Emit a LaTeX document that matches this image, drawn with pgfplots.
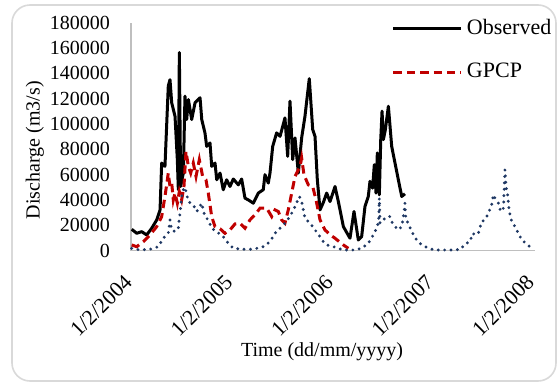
\documentclass[border=0pt]{standalone}
\usepackage{pgfplots}
\pgfplotsset{compat=1.18}
\usepackage{fontspec}
\setmainfont{Liberation Serif}
\definecolor{obsblack}{HTML}{000000}
\definecolor{gpcpred}{HTML}{C00000}
\definecolor{navy}{HTML}{1F3864}
\definecolor{framegrey}{HTML}{D9D9D9}
\definecolor{axisgrey}{HTML}{BFBFBF}
\begin{document}
\begin{tikzpicture}
\useasboundingbox (-65.5pt,-68.25pt) rectangle (214.5pt,125.25pt);
\draw[framegrey, line width=0.8pt, rounded corners=9pt] (-59.5pt,-65.25pt) rectangle (212.5pt,122.75pt);
\begin{axis}[
  at={(0,0)}, anchor=south west,
  scale only axis, width=202pt, height=113.9pt,
  xmin=0, xmax=4.02, ymin=0, ymax=180000,
  axis lines=left, axis line style={axisgrey, line width=0.6pt, -},
  major tick length=0pt,
  xtick={0,1,2,3,4},
  xticklabels={1/2/2004,1/2/2005,1/2/2006,1/2/2007,1/2/2008},
  ytick={0,20000,40000,60000,80000,100000,120000,140000,160000,180000},
  yticklabels={0,20000,40000,60000,80000,100000,120000,140000,160000,180000},
  scaled y ticks=false,
  tick label style={font=\fontsize{10}{12}\selectfont, black},
  yticklabel style={xshift=-7pt},
  xticklabel style={font=\fontsize{10.8}{12}\selectfont, xshift=-4pt, yshift=-6.5pt, rotate=45, anchor=north east},
  xlabel={Time (dd/mm/yyyy)},
  ylabel={Discharge (m3/s)},
  label style={font=\fontsize{10.5}{12}\selectfont},
  every axis x label/.style={at={(axis description cs:0.473,-0.446)}, anchor=center},
  every axis y label/.style={at={(axis description cs:-0.238,0.44)}, rotate=90, anchor=center},
  legend style={at={(0.645,1.035)}, anchor=north west, draw=none, fill=none,
    font=\fontsize{11}{13}\selectfont, row sep=9pt, inner sep=0pt},
  legend cell align=left,
  legend image code/.code={\draw[#1] (0pt,0pt) -- (34pt,0pt);},
  clip=false,
]
\addplot[obsblack, line width=1.5pt, line join=round] coordinates {
(0.007,16800) (0.057,13600) (0.106,14900) (0.156,12300) (0.206,17600)
(0.256,24200) (0.289,32100) (0.305,69100) (0.338,66500) (0.371,130000)
(0.388,135000) (0.405,116700) (0.438,106100) (0.461,71800) (0.471,48000)
(0.481,156400) (0.494,50600) (0.521,61200) (0.537,122000) (0.554,103500)
(0.571,119300) (0.604,103500) (0.637,116700) (0.687,120700) (0.704,103500)
(0.736,92900) (0.753,82300) (0.786,85000) (0.803,66500) (0.836,69100)
(0.853,55900) (0.886,61200) (0.918,48000) (0.952,55900) (0.985,50600)
(1.018,56500) (1.068,51900) (1.101,56500) (1.134,41400) (1.167,40000)
(1.217,37400) (1.267,45400) (1.316,48000) (1.333,59900) (1.366,53300)
(1.383,61200) (1.410,82300) (1.449,92900) (1.483,90200) (1.532,104800)
(1.559,74400) (1.582,118000) (1.609,71800) (1.632,89000) (1.665,61200)
(1.698,89000) (1.731,106100) (1.774,135800) (1.808,95600) (1.831,90200)
(1.854,55900) (1.881,32100) (1.914,38000) (1.947,45400) (1.980,38700)
(2.030,50600) (2.063,38700) (2.113,18900) (2.179,9700) (2.219,30800)
(2.262,8300) (2.295,10900) (2.328,34700) (2.361,42700) (2.378,54600)
(2.404,49300) (2.421,67800) (2.438,45400) (2.451,77100) (2.471,44000)
(2.485,87600) (2.498,110100) (2.511,87600) (2.531,95600) (2.561,114000)
(2.594,82300) (2.627,69100) (2.660,55900) (2.694,42700) (2.726,44800)
};
\addlegendentry{Observed}
\addplot[gpcpred, line width=1.5pt, dash pattern=on 4.2pt off 2.5pt] coordinates {
(0.007,4400) (0.057,3000) (0.123,7000) (0.189,12300) (0.256,18900)
(0.305,26800) (0.338,42700) (0.371,61200) (0.388,50600) (0.405,53300)
(0.421,40000) (0.438,45400) (0.461,37400) (0.481,46600) (0.504,40000)
(0.527,50600) (0.547,78300) (0.571,66500) (0.594,61200) (0.620,69100)
(0.647,58500) (0.680,71800) (0.713,58500) (0.746,55900) (0.769,45400)
(0.803,26800) (0.836,18900) (0.886,17200) (0.935,13600) (0.985,16300)
(1.035,21000) (1.085,21600) (1.134,17600) (1.184,24200) (1.234,28200)
(1.284,33500) (1.350,33500) (1.400,26800) (1.433,32100) (1.466,30800)
(1.499,24200) (1.532,21600) (1.565,32100) (1.599,45400) (1.632,58500)
(1.682,66500) (1.698,73100) (1.721,59900) (1.764,51900) (1.808,50600)
(1.841,40000) (1.881,24200) (1.930,16300) (1.980,12500) (2.030,9700)
(2.113,4400) (2.163,1700)
};
\addlegendentry{GPCP}
\addplot[navy, line width=1.6pt, line cap=round, dash pattern=on 0pt off 3.2pt] coordinates {
(0.007,1700) (0.090,400) (0.189,1000) (0.271,3000) (0.321,9700)
(0.371,13600) (0.388,24200) (0.405,16300) (0.438,14900) (0.471,17600)
(0.494,34700) (0.504,42700) (0.521,48000) (0.537,50000) (0.571,38700)
(0.620,36100) (0.654,30800) (0.704,37400) (0.736,26800) (0.769,24200)
(0.803,17600) (0.853,14900) (0.918,10900) (0.968,5700) (1.018,1700)
(1.117,1000) (1.217,1000) (1.316,3000) (1.383,7000) (1.433,13600)
(1.483,17600) (1.532,21600) (1.582,26800) (1.632,34700) (1.675,42700)
(1.698,38700) (1.731,25500) (1.781,21600) (1.831,16300) (1.881,10900)
(1.914,7000) (1.947,4400) (2.013,3000) (2.113,400) (2.212,400)
(2.295,1700) (2.361,5700) (2.411,12300) (2.451,18900) (2.465,24200)
(2.471,41400) (2.478,21600) (2.511,24200) (2.544,26800) (2.577,26800)
(2.594,22800) (2.627,18900) (2.660,16300) (2.694,18900) (2.716,29500)
(2.726,37400) (2.736,24200) (2.759,21600) (2.793,14900) (2.843,8300)
(2.876,5500) (2.920,3500) (2.958,1700) (3.025,400) (3.092,400)
(3.157,400) (3.224,400) (3.281,1000) (3.323,5200) (3.373,7000)
(3.400,13600) (3.423,12300) (3.456,13600) (3.489,22800) (3.522,24200)
(3.556,29500) (3.589,36100) (3.605,44000) (3.632,40000) (3.655,37400)
(3.679,30800) (3.706,33500) (3.721,63800) (3.731,50600) (3.745,45400)
(3.764,30800) (3.789,22800) (3.821,18900) (3.854,13600) (3.888,8300)
(3.930,5700) (3.987,1700)
};
\end{axis}
\end{tikzpicture}
\end{document}
